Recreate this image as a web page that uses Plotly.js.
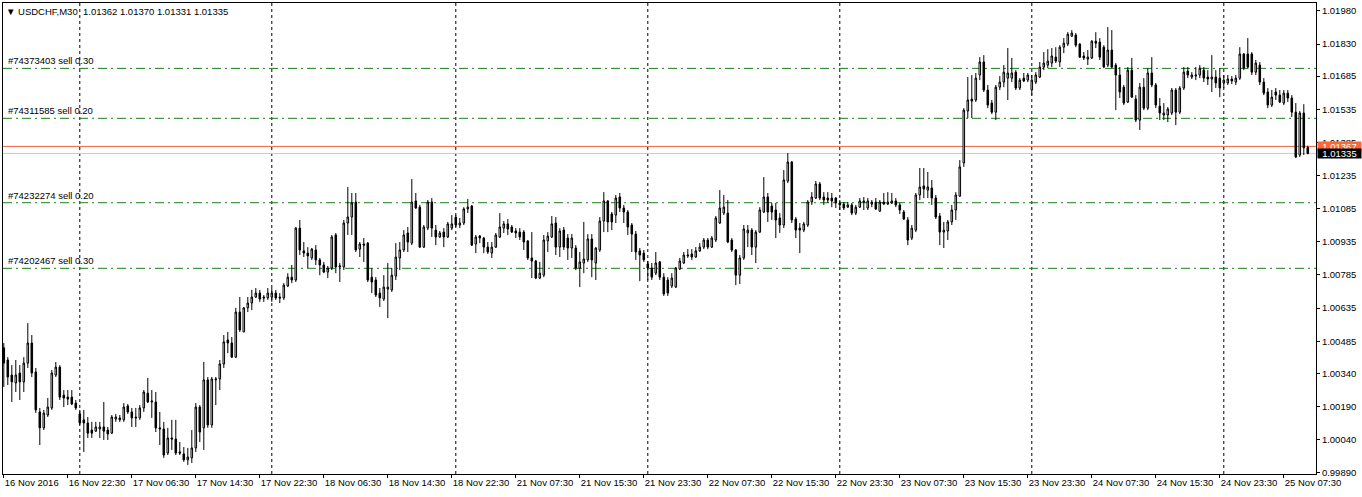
<!DOCTYPE html>
<html>
<head>
<meta charset="utf-8">
<script src="https://cdn.plot.ly/plotly-3.0.1.min.js"></script>
<style>html,body{margin:0;padding:0;background:#fff;}#chart{width:1362px;height:497px;}</style>
</head>
<body>
<div id="chart"></div>
<script>
// ---- data (USDCHF, M30) ----
const symbolTitle = "USDCHF,M30";
const lastBar = {open: 1.01362, high: 1.01370, low: 1.01331, close: 1.01335};
const askPrice = 1.01367;
const bidPrice = 1.01335;

const openPrices = [
1.00455,1.00400,1.00332,1.00296,1.00341,1.00301,1.00386,1.00477,1.00346,1.00165,
1.00093,1.00151,1.00183,1.00332,1.00368,1.00241,1.00232,1.00232,1.00205,1.00156,
1.00129,1.00115,1.00083,1.00078,1.00088,1.00097,1.00083,1.00069,1.00133,1.00138,
1.00129,1.00192,1.00165,1.00142,1.00138,1.00183,1.00250,1.00210,1.00210,1.00093,
1.00088,0.99979,1.00047,1.00042,0.99984,0.99975,0.99948,0.99957,1.00002,1.00187,
1.00093,1.00310,1.00106,1.00310,1.00314,1.00382,1.00491,1.00477,1.00413,1.00617,
1.00527,1.00636,1.00658,1.00685,1.00703,1.00685,1.00681,1.00685,1.00703,1.00685,
1.00681,1.00735,1.00775,1.00762,1.00997,1.00894,1.00884,1.00862,1.00898,1.00853,
1.00830,1.00798,1.00816,1.00966,1.00821,1.00821,1.01020,1.01047,1.01115,1.00902,
1.00925,1.00929,1.00775,1.00762,1.00703,1.00676,1.00721,1.00717,1.00780,1.00862,
1.00898,1.00975,1.00929,1.01120,1.01092,1.00911,1.00997,1.01115,1.00988,1.00957,
1.00979,1.00957,1.00997,1.01047,1.01011,1.01020,1.01084,1.01097,1.00925,1.00961,
1.00952,1.00911,1.00884,1.00911,1.00957,1.00997,1.01016,1.01002,1.00984,1.00979,
1.00979,1.00939,1.00862,1.00848,1.00771,1.00784,1.00939,1.00957,1.01020,1.00911,
1.00988,1.00952,1.00907,1.00907,1.00816,1.00839,1.00853,1.00948,1.00839,1.00898,
1.01029,1.01120,1.01061,1.01056,1.01138,1.01088,1.01070,1.01011,1.00970,1.00894,
1.00884,1.00835,1.00816,1.00793,1.00844,1.00775,1.00762,1.00735,1.00730,1.00812,
1.00839,1.00871,1.00880,1.00866,1.00894,1.00911,1.00943,1.00911,1.00943,1.01020,
1.01065,1.01065,1.00943,1.00898,1.00784,1.00862,1.00975,1.00988,1.00911,1.00979,
1.01070,1.01138,1.01097,1.01079,1.01043,1.01011,1.01210,1.01296,1.01038,1.00997,
1.00988,1.01011,1.01115,1.01133,1.01197,1.01138,1.01133,1.01133,1.01133,1.01111,
1.01106,1.01092,1.01102,1.01065,1.01092,1.01120,1.01088,1.01115,1.01115,1.01074,
1.01115,1.01106,1.01111,1.01120,1.01102,1.01070,1.01034,1.00952,1.00988,1.01147,
1.01188,1.01169,1.01179,1.01133,1.01052,1.00979,1.00984,1.01025,1.01079,1.01142,
1.01292,1.01527,1.01581,1.01577,1.01690,1.01749,1.01622,1.01563,1.01522,1.01635,
1.01658,1.01676,1.01676,1.01703,1.01631,1.01676,1.01667,1.01622,1.01658,1.01681,
1.01726,1.01735,1.01744,1.01771,1.01749,1.01816,1.01830,1.01866,1.01871,1.01830,
1.01776,1.01762,1.01767,1.01843,1.01839,1.01816,1.01735,1.01803,1.01735,1.01690,
1.01635,1.01568,1.01712,1.01581,1.01486,1.01635,1.01540,1.01699,1.01645,1.01549,
1.01509,1.01509,1.01518,1.01622,1.01522,1.01631,1.01708,1.01681,1.01685,1.01690,
1.01712,1.01681,1.01672,1.01681,1.01676,1.01654,1.01654,1.01672,1.01658,1.01676,
1.01785,1.01785,1.01785,1.01703,1.01735,1.01658,1.01613,1.01554,1.01613,1.01599,
1.01563,1.01608,1.01586,1.01522,1.01328,1.01518,1.01362
];
const highPrices = [
1.00477,1.00413,1.00377,1.00400,1.00377,1.00413,1.00567,1.00513,1.00364,1.00183,
1.00174,1.00228,1.00355,1.00391,1.00377,1.00264,1.00264,1.00264,1.00219,1.00174,
1.00174,1.00142,1.00120,1.00120,1.00120,1.00210,1.00097,1.00151,1.00156,1.00151,
1.00205,1.00201,1.00183,1.00183,1.00196,1.00264,1.00319,1.00264,1.00255,1.00165,
1.00120,1.00093,1.00129,1.00129,1.00029,1.00006,1.00002,1.00083,1.00205,1.00196,
1.00391,1.00323,1.00323,1.00323,1.00400,1.00513,1.00527,1.00504,1.00636,1.00685,
1.00640,1.00685,1.00717,1.00726,1.00717,1.00694,1.00726,1.00726,1.00717,1.00703,
1.00748,1.00793,1.00830,1.01002,1.01034,1.00934,1.00911,1.00907,1.00920,1.00862,
1.00844,1.00826,1.00966,1.00975,1.00839,1.01034,1.01183,1.01156,1.01156,1.00934,
1.00952,1.00934,1.00816,1.00775,1.00726,1.00784,1.00839,1.00816,1.00929,1.00934,
1.00988,1.01002,1.01219,1.01156,1.01102,1.01011,1.01124,1.01133,1.01011,1.00984,
1.00997,1.01025,1.01056,1.01056,1.01043,1.01092,1.01129,1.01102,1.00966,1.00966,
1.00957,1.00934,1.00934,1.00975,1.01065,1.01029,1.01038,1.01011,1.00997,1.00997,
1.00988,1.00943,1.00979,1.00853,1.00844,1.00966,1.00979,1.01052,1.01047,1.00997,
1.01002,1.00970,1.00970,1.00920,1.00889,1.01025,1.00970,1.00970,1.00911,1.01047,
1.01160,1.01124,1.01070,1.01147,1.01156,1.01102,1.01079,1.01020,1.00984,1.00907,
1.00898,1.00848,1.00839,1.00889,1.00848,1.00793,1.00775,1.00793,1.00821,1.00862,
1.00889,1.00902,1.00902,1.00911,1.00929,1.00952,1.00952,1.00961,1.01052,1.01169,
1.01147,1.01124,1.00952,1.00902,1.00875,1.01011,1.01011,1.00997,1.00988,1.01092,
1.01228,1.01156,1.01111,1.01111,1.01065,1.01260,1.01337,1.01301,1.01047,1.01020,
1.01025,1.01124,1.01160,1.01210,1.01206,1.01160,1.01160,1.01156,1.01138,1.01124,
1.01115,1.01115,1.01111,1.01102,1.01133,1.01138,1.01133,1.01124,1.01133,1.01124,
1.01156,1.01160,1.01156,1.01133,1.01111,1.01079,1.01047,1.01011,1.01156,1.01269,
1.01269,1.01251,1.01215,1.01147,1.01065,1.01025,1.01034,1.01102,1.01160,1.01305,
1.01540,1.01681,1.01690,1.01699,1.01771,1.01780,1.01645,1.01577,1.01645,1.01685,
1.01735,1.01812,1.01767,1.01712,1.01676,1.01699,1.01699,1.01690,1.01703,1.01749,
1.01794,1.01807,1.01812,1.01816,1.01825,1.01857,1.01884,1.01893,1.01880,1.01834,
1.01794,1.01803,1.01848,1.01884,1.01857,1.01825,1.01907,1.01893,1.01744,1.01726,
1.01645,1.01726,1.01767,1.01599,1.01654,1.01676,1.01721,1.01771,1.01654,1.01586,
1.01563,1.01545,1.01631,1.01631,1.01640,1.01726,1.01726,1.01703,1.01726,1.01735,
1.01726,1.01712,1.01780,1.01712,1.01721,1.01690,1.01690,1.01685,1.01690,1.01816,
1.01789,1.01857,1.01794,1.01758,1.01749,1.01676,1.01631,1.01622,1.01631,1.01622,
1.01622,1.01622,1.01599,1.01563,1.01527,1.01558,1.01370
];
const lowPrices = [
1.00278,1.00287,1.00210,1.00255,1.00219,1.00255,1.00364,1.00323,1.00160,1.00015,
1.00083,1.00142,1.00174,1.00323,1.00219,1.00187,1.00196,1.00196,1.00174,1.00106,
0.99984,1.00047,1.00047,1.00074,1.00047,1.00038,1.00038,1.00065,1.00120,1.00120,
1.00120,1.00156,1.00097,1.00097,1.00129,1.00165,1.00205,1.00138,1.00074,1.00015,
0.99957,0.99970,0.99993,0.99970,0.99970,0.99939,0.99925,0.99934,0.99984,1.00029,
0.99993,1.00093,1.00093,1.00196,1.00264,1.00364,1.00431,1.00409,1.00409,1.00527,
1.00527,1.00617,1.00626,1.00681,1.00663,1.00663,1.00672,1.00663,1.00672,1.00658,
1.00672,1.00730,1.00748,1.00753,1.00875,1.00866,1.00816,1.00853,1.00830,1.00784,
1.00793,1.00771,1.00807,1.00793,1.00753,1.00807,1.00966,1.00966,1.00889,1.00866,
1.00844,1.00753,1.00703,1.00685,1.00640,1.00667,1.00590,1.00708,1.00762,1.00807,
1.00889,1.00889,1.00920,1.01084,1.00907,1.00907,1.00988,1.00957,1.00920,1.00952,
1.00911,1.00952,1.00988,1.01002,1.00997,1.01011,1.01065,1.00916,1.00884,1.00929,
1.00884,1.00880,1.00862,1.00907,1.00952,1.00975,1.00966,1.00975,1.00952,1.00943,
1.00898,1.00853,1.00771,1.00766,1.00766,1.00775,1.00889,1.00952,1.00875,1.00866,
1.00898,1.00853,1.00862,1.00807,1.00730,1.00793,1.00844,1.00775,1.00762,1.00889,
1.00979,1.00979,1.00988,1.01020,1.01070,1.01020,1.00966,1.00889,1.00853,1.00757,
1.00844,1.00762,1.00762,1.00784,1.00762,1.00690,1.00690,1.00726,1.00726,1.00807,
1.00835,1.00862,1.00853,1.00862,1.00889,1.00902,1.00902,1.00907,1.00934,1.01016,
1.01056,1.00929,1.00889,1.00739,1.00744,1.00853,1.00911,1.00875,1.00839,1.00975,
1.01065,1.01025,1.01034,1.00952,1.00975,1.00997,1.01201,1.01020,1.00952,1.00884,
1.00979,1.01002,1.01102,1.01129,1.01124,1.01102,1.01111,1.01092,1.01088,1.01079,
1.01079,1.01088,1.01056,1.01056,1.01088,1.01079,1.01079,1.01092,1.01079,1.01070,
1.01102,1.01102,1.01106,1.01092,1.01061,1.01034,1.00920,1.00943,1.00979,1.01124,
1.01133,1.01133,1.01102,1.01038,1.00920,1.00907,1.00943,1.01011,1.01034,1.01138,
1.01274,1.01495,1.01495,1.01568,1.01667,1.01613,1.01540,1.01513,1.01486,1.01622,
1.01635,1.01577,1.01658,1.01622,1.01622,1.01658,1.01658,1.01599,1.01649,1.01676,
1.01712,1.01721,1.01726,1.01744,1.01726,1.01789,1.01821,1.01862,1.01816,1.01767,
1.01758,1.01735,1.01762,1.01812,1.01758,1.01721,1.01726,1.01721,1.01531,1.01586,
1.01554,1.01563,1.01586,1.01477,1.01441,1.01531,1.01531,1.01635,1.01540,1.01486,
1.01486,1.01477,1.01509,1.01463,1.01513,1.01622,1.01676,1.01672,1.01667,1.01676,
1.01658,1.01645,1.01613,1.01631,1.01590,1.01631,1.01645,1.01649,1.01645,1.01667,
1.01712,1.01717,1.01690,1.01690,1.01645,1.01599,1.01540,1.01545,1.01577,1.01563,
1.01554,1.01568,1.01500,1.01314,1.01319,1.01328,1.01331
];
const closePrices = [
1.00386,1.00323,1.00301,1.00332,1.00301,1.00386,1.00477,1.00341,1.00174,1.00093,
1.00160,1.00187,1.00341,1.00368,1.00232,1.00228,1.00223,1.00201,1.00183,1.00115,
1.00115,1.00069,1.00069,1.00097,1.00097,1.00078,1.00065,1.00142,1.00142,1.00129,
1.00187,1.00165,1.00138,1.00138,1.00183,1.00255,1.00210,1.00214,1.00093,1.00088,
0.99970,1.00047,1.00042,0.99979,0.99979,0.99948,0.99961,1.00002,1.00187,1.00074,
1.00310,1.00106,1.00314,1.00314,1.00382,1.00482,1.00477,1.00413,1.00617,1.00536,
1.00636,1.00658,1.00685,1.00703,1.00676,1.00681,1.00703,1.00703,1.00681,1.00681,
1.00739,1.00775,1.00762,1.00997,1.00898,1.00884,1.00871,1.00902,1.00853,1.00830,
1.00798,1.00816,1.00957,1.00821,1.00826,1.01020,1.01047,1.01111,1.00898,1.00925,
1.00920,1.00762,1.00753,1.00694,1.00681,1.00730,1.00730,1.00784,1.00866,1.00898,
1.00966,1.00934,1.01115,1.01088,1.00911,1.01002,1.01115,1.00997,1.00957,1.00975,
1.00957,1.01016,1.01016,1.01011,1.01020,1.01084,1.01092,1.00920,1.00957,1.00952,
1.00911,1.00889,1.00911,1.00966,1.01002,1.01016,1.00993,1.00979,1.00975,1.00957,
1.00934,1.00862,1.00848,1.00771,1.00793,1.00943,1.00961,1.01016,1.00911,1.00984,
1.00911,1.00907,1.00952,1.00816,1.00844,1.00857,1.00948,1.00853,1.00907,1.01029,
1.01120,1.01025,1.01025,1.01133,1.01088,1.01070,1.01002,1.00970,1.00889,1.00875,
1.00853,1.00816,1.00775,1.00839,1.00775,1.00699,1.00703,1.00771,1.00816,1.00848,
1.00875,1.00875,1.00866,1.00894,1.00911,1.00943,1.00911,1.00952,1.01043,1.01088,
1.01092,1.00934,1.00898,1.00784,1.00862,1.00993,1.00988,1.00911,1.00979,1.01079,
1.01138,1.01070,1.01070,1.01034,1.01011,1.01215,1.01296,1.01034,1.00988,1.00988,
1.01016,1.01115,1.01138,1.01197,1.01133,1.01124,1.01124,1.01120,1.01111,1.01102,
1.01088,1.01102,1.01065,1.01092,1.01120,1.01115,1.01120,1.01106,1.01084,1.01115,
1.01106,1.01115,1.01120,1.01102,1.01079,1.01038,1.00943,1.00997,1.01147,1.01183,
1.01174,1.01183,1.01133,1.01047,1.00979,1.00988,1.01025,1.01079,1.01147,1.01274,
1.01531,1.01577,1.01572,1.01676,1.01749,1.01622,1.01554,1.01522,1.01635,1.01658,
1.01703,1.01699,1.01699,1.01631,1.01667,1.01663,1.01690,1.01667,1.01690,1.01726,
1.01744,1.01753,1.01776,1.01753,1.01816,1.01834,1.01875,1.01880,1.01825,1.01771,
1.01767,1.01771,1.01843,1.01834,1.01771,1.01726,1.01803,1.01726,1.01690,1.01613,
1.01563,1.01712,1.01590,1.01486,1.01635,1.01540,1.01699,1.01645,1.01554,1.01518,
1.01518,1.01536,1.01622,1.01522,1.01631,1.01703,1.01690,1.01690,1.01690,1.01721,
1.01676,1.01672,1.01681,1.01654,1.01631,1.01667,1.01672,1.01663,1.01676,1.01785,
1.01721,1.01726,1.01703,1.01744,1.01658,1.01608,1.01554,1.01590,1.01599,1.01568,
1.01608,1.01586,1.01522,1.01319,1.01518,1.01360,1.01335
];

// time axis labels (one every 16 bars of M30 = 8 hours)
const timeLabels = ["16 Nov 2016","16 Nov 22:30","17 Nov 06:30","17 Nov 14:30","17 Nov 22:30",
  "18 Nov 06:30","18 Nov 14:30","18 Nov 22:30","21 Nov 07:30","21 Nov 15:30","21 Nov 23:30",
  "22 Nov 07:30","22 Nov 15:30","22 Nov 23:30","23 Nov 07:30","23 Nov 15:30","23 Nov 23:30",
  "24 Nov 07:30","24 Nov 15:30","24 Nov 23:30","25 Nov 07:30"];
const barsPerLabel = 16;
// bar index where each new trading day starts (day separators)
const dayStartBars = [19, 67, 113, 161, 209, 257, 305];

// price scale labels
const priceTicks = [1.01980,1.01830,1.01685,1.01535,1.01385,1.01235,1.01085,1.00935,1.00785,
  1.00635,1.00485,1.00340,1.00190,1.00040,0.99890];

// open orders
const orderTickets = ["#74373403","#74311585","#74232274","#74202467"];
const orderTypes = ["sell","sell","sell","sell"];
const orderLots = [0.30,0.20,0.20,0.30];
const orderPrices = [1.01720,1.01494,1.01112,1.00815];

// ---- chart ----
const barIndex = openPrices.map((_, i) => i);
const FONT = "Liberation Sans, Arial, sans-serif";

const trace = {
  type: "candlestick",
  x: barIndex,
  open: openPrices, high: highPrices, low: lowPrices, close: closePrices,
  increasing: {line: {color: "#000000", width: 1}, fillcolor: "#ffffff"},
  decreasing: {line: {color: "#000000", width: 1}, fillcolor: "#000000"},
  whiskerwidth: 0,
  hoverinfo: "skip",
  showlegend: false
};

const shapes = [];
dayStartBars.forEach(b => shapes.push({
  type: "line", xref: "x", yref: "paper", x0: b, x1: b, y0: 0, y1: 1, layer: "below",
  line: {color: "#000000", width: 1, dash: "3px,3px"}
}));
orderPrices.forEach(p => shapes.push({
  type: "line", xref: "paper", yref: "y", x0: 0, x1: 1, y0: p, y1: p, layer: "below",
  line: {color: "#1a7f1a", width: 1, dash: "9px,4px,2px,4px"}
}));
shapes.push({type: "line", xref: "paper", yref: "y", x0: 0, x1: 1, y0: bidPrice, y1: bidPrice, layer: "below",
  line: {color: "rgb(196,210,176)", width: 1}});
shapes.push({type: "line", xref: "paper", yref: "y", x0: 0, x1: 1, y0: askPrice, y1: askPrice, layer: "below",
  line: {color: "rgb(240,96,56)", width: 1}});

const annotations = [];
annotations.push({
  xref: "paper", yref: "paper", x: 0, y: 1, xanchor: "left", yanchor: "top", xshift: 1, yshift: -1,
  showarrow: false, align: "left",
  text: "\u25BC " + symbolTitle + "\u00A0\u00A0" + [lastBar.open, lastBar.high, lastBar.low, lastBar.close].map(v => v.toFixed(5)).join(" "),
  font: {family: FONT, size: 9.5, color: "#000000"}
});
orderPrices.forEach((p, k) => annotations.push({
  xref: "paper", yref: "y", x: 0, y: p, xanchor: "left", yanchor: "bottom", xshift: 3, yshift: 0,
  showarrow: false, text: orderTickets[k] + " " + orderTypes[k] + " " + orderLots[k].toFixed(2),
  font: {family: FONT, size: 9.5, color: "#000000"}
}));
annotations.push({
  xref: "paper", yref: "y", x: 1, y: askPrice, xanchor: "left", yanchor: "middle", xshift: 1,
  showarrow: false, text: askPrice.toFixed(5), bgcolor: "rgb(255,102,51)", borderpad: 0,
  width: 43, height: 9, font: {family: FONT, size: 9.5, color: "#ffffff"}
});
annotations.push({
  xref: "paper", yref: "y", x: 1, y: bidPrice, xanchor: "left", yanchor: "middle", xshift: 1,
  showarrow: false, text: bidPrice.toFixed(5), bgcolor: "#000000", borderpad: 0,
  width: 43, height: 9, font: {family: FONT, size: 9.5, color: "#ffffff"}
});

const tickVals = timeLabels.map((_, k) => k * barsPerLabel);

const layout = {
  width: 1362, height: 497,
  margin: {l: 3, r: 46, t: 3, b: 23, pad: 0},
  paper_bgcolor: "#ffffff", plot_bgcolor: "#ffffff",
  boxgap: 0.45,
  showlegend: false,
  xaxis: {
    type: "linear", range: [-0.2, 328.05], fixedrange: true,
    rangeslider: {visible: false},
    showgrid: false, zeroline: false,
    showline: true, mirror: true, linecolor: "#000000", linewidth: 1,
    ticks: "outside", ticklen: 3, tickcolor: "#000000", tickwidth: 1,
    tickmode: "array", tickvals: tickVals, ticktext: timeLabels,
    tickangle: 0, automargin: false,
    ticklabelposition: "outside right",
    tickfont: {family: FONT, size: 9.5, color: "#000000"}
  },
  yaxis: {
    side: "right", range: [0.99884, 1.02016], fixedrange: true, automargin: false,
    showgrid: false, zeroline: false,
    showline: true, mirror: true, linecolor: "#000000", linewidth: 1,
    ticks: "outside", ticklen: 3, tickcolor: "#000000", tickwidth: 1,
    tickmode: "array", tickvals: priceTicks, ticktext: priceTicks.map(v => v.toFixed(5)),
    tickfont: {family: FONT, size: 9.5, color: "#000000"}
  },
  shapes: shapes,
  annotations: annotations
};

Plotly.newPlot("chart", [trace], layout, {staticPlot: true, displayModeBar: false});
</script>
</body>
</html>
